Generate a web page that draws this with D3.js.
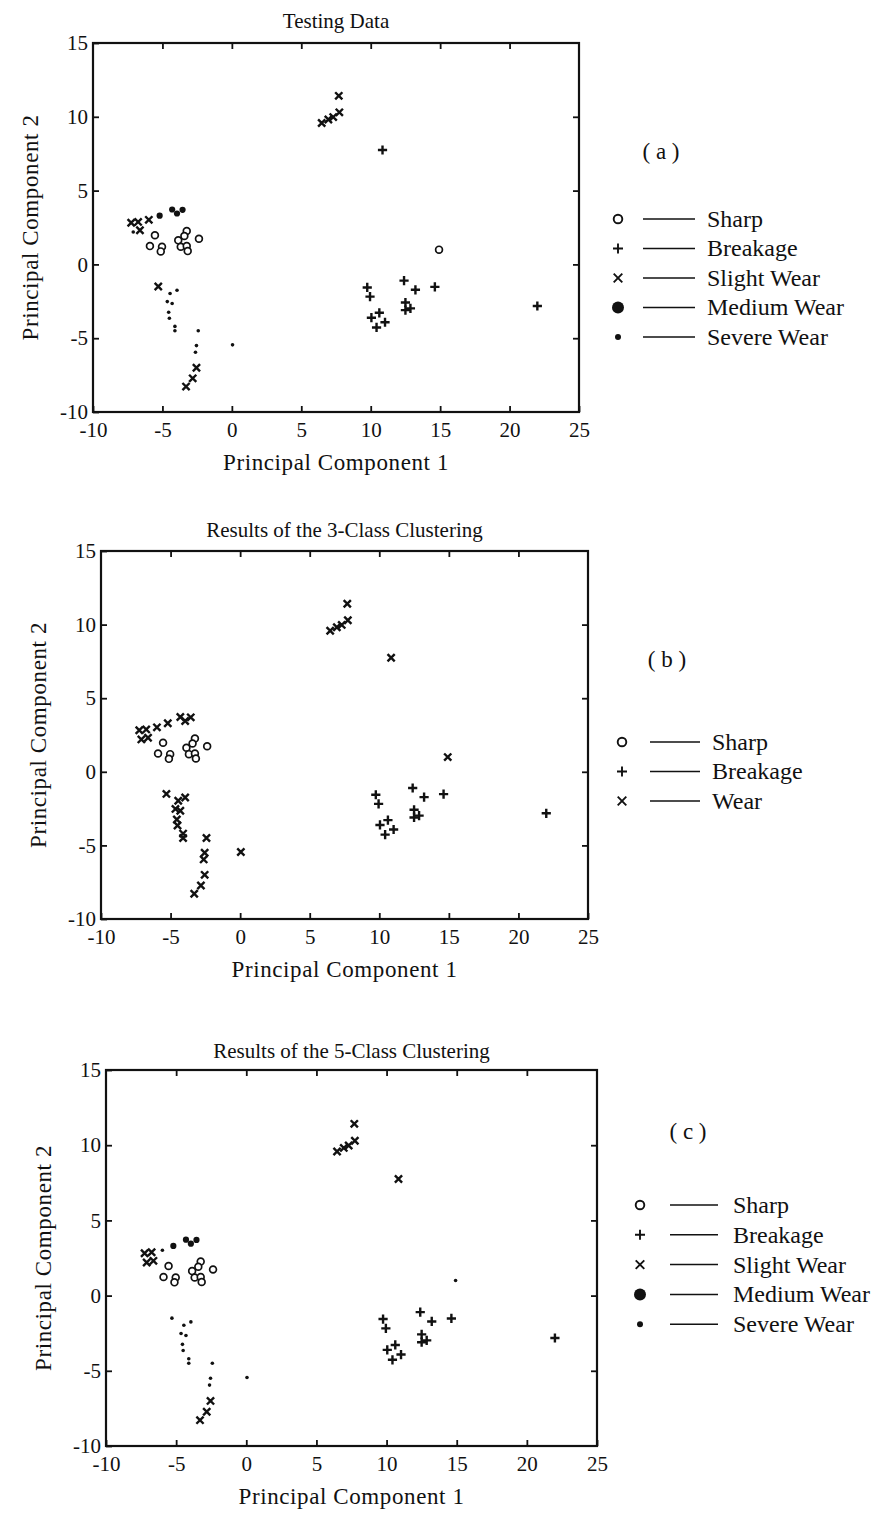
<!DOCTYPE html>
<html>
<head>
<meta charset="utf-8">
<script src="https://cdn.jsdelivr.net/npm/d3@7"></script>
<style>
  body { margin: 0; background: #fff; }
  text { font-family: "Liberation Serif", "Times New Roman", serif; fill: #111; }
</style>
</head>
<body>
<svg id="fig" width="884" height="1516"></svg>
<script>
// Principal component scores of the test samples
const pc1 = [
  -5.54, -5.90, -5.03, -5.12, -3.25, -3.42, -3.86, -3.68, -3.25, -3.18, -2.37,
  -7.25, -6.75, -5.98, -5.20, -4.30, -3.95, -3.55, -6.62, -7.10,
  -5.30, -4.45, -3.95, -4.65, -4.30, -4.55, -4.50, -4.10, -4.10, -2.42, -2.55, -2.62, 0.05, -2.55, -2.82, -3.30,
  6.47, 6.95, 7.30, 7.74, 7.70, 10.85, 14.92,
  9.75, 9.95, 10.05, 10.62, 10.42, 11.03, 12.40, 13.22, 12.50, 12.50, 12.86, 14.62, 22.00
];
const pc2 = [
  1.97, 1.24, 1.20, 0.88, 2.26, 1.92, 1.63, 1.20, 1.24, 0.90, 1.74,
  2.82, 2.88, 3.02, 3.30, 3.72, 3.45, 3.70, 2.31, 2.20,
  -1.50, -1.97, -1.75, -2.52, -2.65, -3.24, -3.65, -4.20, -4.50, -4.50, -5.50, -5.95, -5.45, -7.00, -7.72, -8.28,
  9.58, 9.82, 9.98, 10.30, 11.42, 7.75, 1.00,
  -1.56, -2.18, -3.61, -3.28, -4.27, -3.92, -1.10, -1.72, -2.58, -3.10, -2.98, -1.52, -2.82
];
// Class codes: S sharp, B breakage, SW slight wear, MW medium wear, SV severe wear, W wear
const trueClass = [
  "S","S","S","S","S","S","S","S","S","S","S",
  "SW","SW","SW","MW","MW","MW","MW","SW","SV",
  "SW","SV","SV","SV","SV","SV","SV","SV","SV","SV","SV","SV","SV","SW","SW","SW",
  "SW","SW","SW","SW","SW","B","S",
  "B","B","B","B","B","B","B","B","B","B","B","B","B"
];
const cluster3 = [
  "S","S","S","S","S","S","S","S","S","S","S",
  "W","W","W","W","W","W","W","W","W",
  "W","W","W","W","W","W","W","W","W","W","W","W","W","W","W","W",
  "W","W","W","W","W","W","W",
  "B","B","B","B","B","B","B","B","B","B","B","B","B"
];
const cluster5 = [
  "S","S","S","S","S","S","S","S","S","S","S",
  "SW","SW","SV","MW","MW","MW","MW","SW","SW",
  "SV","SV","SV","SV","SV","SV","SV","SV","SV","SV","SV","SV","SV","SW","SW","SW",
  "SW","SW","SW","SW","SW","SW","SV",
  "B","B","B","B","B","B","B","B","B","B","B","B","B"
];

const xTicks = [-10, -5, 0, 5, 10, 15, 20, 25];
const yTicks = [-10, -5, 0, 5, 10, 15];
const legend5Codes = ["S", "B", "SW", "MW", "SV"];
const legend5Names = ["Sharp", "Breakage", "Slight Wear", "Medium Wear", "Severe Wear"];
const legend3Codes = ["S", "B", "W"];
const legend3Names = ["Sharp", "Breakage", "Wear"];
const titles = ["Testing Data", "Results of the 3-Class Clustering", "Results of the 5-Class Clustering"];
const tags = ["( a )", "( b )", "( c )"];
const xLabel = "Principal Component 1";
const yLabel = "Principal Component 2";

// Layout of the three stacked panels
const layout = [
  { l: 93,  r: 579, t: 43,   b: 412,  yLabX: 30, titleY: 28,
    leg: { tagX: 661, tagY: 159, y0: 219, dy: 29.5, sym: 618, l0: 643, l1: 695, tx: 707 } },
  { l: 101, r: 588, t: 551,  b: 919,  yLabX: 38, titleY: 537,
    leg: { tagX: 667, tagY: 667, y0: 742, dy: 29.5, sym: 622, l0: 650, l1: 700, tx: 712 } },
  { l: 106, r: 597, t: 1070, b: 1446, yLabX: 43, titleY: 1058,
    leg: { tagX: 688, tagY: 1139, y0: 1205, dy: 29.8, sym: 640, l0: 670, l1: 718, tx: 733 } }
];
const panelClasses = [trueClass, cluster3, cluster5];
const panelLegends = [[legend5Codes, legend5Names], [legend3Codes, legend3Names], [legend5Codes, legend5Names]];

const svg = d3.select("#fig");

function drawMarker(g, code, x, y, legend) {
  if (code === "S") {
    g.append("circle").attr("cx", x).attr("cy", y).attr("r", legend ? 4.3 : 3.4)
      .attr("fill", "#fff").attr("stroke", "#111").attr("stroke-width", legend ? 1.9 : 1.7);
  } else if (code === "B") {
    const a = legend ? 5 : 4.6;
    g.append("path").attr("d", `M${x - a},${y}H${x + a}M${x},${y - a}V${y + a}`)
      .attr("stroke", "#111").attr("stroke-width", legend ? 1.9 : 2.4);
  } else if (code === "SW" || code === "W") {
    const a = legend ? 4.3 : 3.6;
    g.append("path").attr("d", `M${x - a},${y - a}L${x + a},${y + a}M${x - a},${y + a}L${x + a},${y - a}`)
      .attr("stroke", "#111").attr("stroke-width", legend ? 1.9 : 2.4);
  } else if (code === "MW") {
    g.append("circle").attr("cx", x).attr("cy", y).attr("r", legend ? 6 : 3.1).attr("fill", "#111");
  } else if (code === "SV") {
    g.append("circle").attr("cx", x).attr("cy", y).attr("r", legend ? 3 : 1.8).attr("fill", "#111");
  }
}

const fmt = d => String(d);

layout.forEach((p, i) => {
  const g = svg.append("g");
  const x = d3.scaleLinear().domain([-10, 25]).range([p.l, p.r]);
  const y = d3.scaleLinear().domain([-10, 15]).range([p.b, p.t]);

  // frame
  g.append("rect").attr("x", p.l).attr("y", p.t).attr("width", p.r - p.l).attr("height", p.b - p.t)
    .attr("fill", "none").attr("stroke", "#111").attr("stroke-width", 2.2);

  const tickStyle = sel => {
    sel.select(".domain").remove();
    sel.selectAll(".tick line").attr("stroke", "#111").attr("stroke-width", 1.8);
    sel.selectAll(".tick text").style("font-family", "Liberation Serif, serif")
      .style("font-size", "21px").attr("fill", "#111");
  };

  g.append("g").attr("transform", `translate(0,${p.b})`)
    .call(d3.axisBottom(x).tickValues(xTicks).tickSizeInner(-6).tickSizeOuter(0).tickPadding(10).tickFormat(fmt))
    .call(tickStyle);
  g.append("g").attr("transform", `translate(0,${p.t})`)
    .call(d3.axisTop(x).tickValues(xTicks.slice(1, -1)).tickSizeInner(-6).tickSizeOuter(0).tickFormat(""))
    .call(tickStyle);
  g.append("g").attr("transform", `translate(${p.l},0)`)
    .call(d3.axisLeft(y).tickValues(yTicks).tickSizeInner(-6).tickSizeOuter(0).tickPadding(5).tickFormat(fmt))
    .call(tickStyle);
  g.append("g").attr("transform", `translate(${p.r},0)`)
    .call(d3.axisRight(y).tickValues(yTicks.slice(1, -1)).tickSizeInner(-6).tickSizeOuter(0).tickFormat(""))
    .call(tickStyle);

  // titles and axis labels
  g.append("text").attr("x", (p.l + p.r) / 2).attr("y", p.titleY).attr("text-anchor", "middle")
    .style("font-size", "21px").text(titles[i]);
  g.append("text").attr("x", (p.l + p.r) / 2).attr("y", p.b + 58).attr("text-anchor", "middle")
    .style("font-size", "23px").style("letter-spacing", "0.6px").text(xLabel);
  g.append("text").attr("transform", `translate(${p.yLabX},${(p.t + p.b) / 2}) rotate(-90)`)
    .attr("text-anchor", "middle").attr("dy", "0.35em")
    .style("font-size", "23px").style("letter-spacing", "0.6px").text(yLabel);

  // data points
  const cls = panelClasses[i];
  const pts = g.append("g");
  pc1.forEach((v, j) => drawMarker(pts, cls[j], x(v), y(pc2[j]), false));

  // legend
  const L = p.leg;
  g.append("text").attr("x", L.tagX).attr("y", L.tagY).attr("text-anchor", "middle")
    .style("font-size", "23px").text(tags[i]);
  const [codes, names] = panelLegends[i];
  codes.forEach((c, k) => {
    const yy = L.y0 + k * L.dy;
    drawMarker(g, c, L.sym, yy, true);
    g.append("line").attr("x1", L.l0).attr("x2", L.l1).attr("y1", yy).attr("y2", yy)
      .attr("stroke", "#111").attr("stroke-width", 1.5);
    g.append("text").attr("x", L.tx).attr("y", yy).attr("dy", "0.33em")
      .style("font-size", "24px").text(names[k]);
  });
});
</script>
</body>
</html>
